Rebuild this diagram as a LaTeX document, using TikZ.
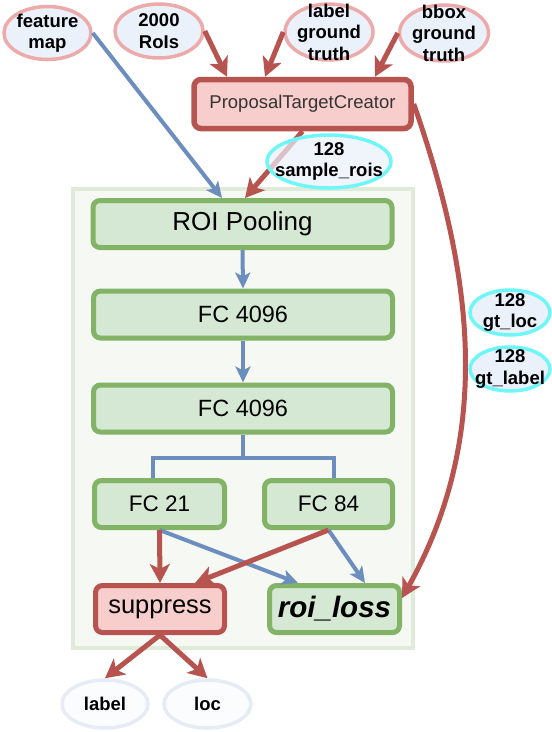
\documentclass[tikz,border=0pt]{standalone}
\usepackage{fontspec}
\setmainfont{Liberation Sans}
\usetikzlibrary{shapes.geometric,arrows.meta,calc}
\definecolor{redline}{HTML}{B85450}
\definecolor{redfill}{HTML}{F8CECC}
\definecolor{greenline}{HTML}{82B366}
\definecolor{greenfill}{HTML}{D5E8D4}
\definecolor{blueline}{HTML}{6C8EBF}
\definecolor{ovalfill}{HTML}{EAF1FB}
\definecolor{pinkrim}{HTML}{EDAAAA}
\definecolor{cyanrim}{HTML}{6EF6F8}
\definecolor{palerim}{HTML}{E6ECF5}
\definecolor{palefill}{HTML}{FAFCFE}
\definecolor{groupline}{HTML}{E0EAD8}
\definecolor{groupfill}{HTML}{F6F8F3}

\begin{document}
\begin{tikzpicture}[x=1pt, y=-1pt,
                    every node/.style={inner sep=0pt},
                    layer/.style={draw=greenline, fill=greenfill, line width=5pt,
                      rounded corners=7pt, minimum height=47pt, minimum width=#1},
                    redbox/.style={layer=#1, draw=redline, fill=redfill},
                    oval/.style={ellipse, draw=pinkrim, fill=ovalfill, line width=3.5pt},
                    ovaltext/.style={font=\fontsize{18.5}{21.5}\selectfont\bfseries, align=center},
                    redarrow/.style={draw=redline, line width=5pt,
                      -{Stealth[length=19pt, width=20pt, inset=5pt]}},
                    bluearrow/.style={draw=blueline, line width=4pt,
                      -{Stealth[length=16pt, width=15pt, inset=4pt]}}]
\useasboundingbox (0,0) rectangle (552,732);
\fill[groupfill, draw=groupline, line width=4pt] (73,189) rectangle (413,648);

\node[oval, minimum width=87pt, minimum height=53pt,
      label={[ovaltext]center:feature\\map}] (fmap) at (47.5,33) {};
\node[oval, minimum width=88pt, minimum height=54pt,
      label={[ovaltext]center:2000\\RoIs}] (rois) at (159,31) {};
\node[oval, minimum width=88pt, minimum height=56pt,
      label={[ovaltext]center:label\\ground\\truth}] (lgt) at (329,32) {};
\node[oval, minimum width=89pt, minimum height=56pt,
      label={[ovaltext]center:bbox\\ground\\truth}] (bgt) at (444,33) {};

\node[redbox=217pt, minimum height=49pt, line width=5.5pt, text=black!80,
      font=\fontsize{18.5}{22}\selectfont] (ptc) at (302.5,104) {ProposalTargetCreator};

\node[layer=299pt, font=\fontsize{26}{30}\selectfont] (roi) at (242.5,224) {ROI Pooling};
\node[layer=299pt, font=\fontsize{23.5}{28}\selectfont] (fca) at (243,314.5) {FC 4096};
\node[layer=299pt, font=\fontsize{23.5}{28}\selectfont] (fcb) at (243,408.5) {FC 4096};
\node[layer=130pt, font=\fontsize{22.5}{27}\selectfont] (fc21) at (159.5,504) {FC 21};
\node[layer=128pt, font=\fontsize{22.5}{27}\selectfont] (fc84) at (328.5,504) {FC 84};
\node[redbox=129pt, font=\fontsize{25.5}{30}\selectfont] (supp) at (160,609) {suppress};
\node[layer=130pt, font=\fontsize{29.5}{34}\selectfont\bfseries\itshape] (loss) at (334.5,609) {roi\_loss};

\node[oval, draw=cyanrim, minimum width=80pt, minimum height=45pt,
      label={[ovaltext]center:128\\gt\_loc}] (gtloc) at (510,312.5) {};
\node[oval, draw=cyanrim, minimum width=80pt, minimum height=44pt,
      label={[ovaltext]center:128\\gt\_label}] (gtlabel) at (510,369) {};

\node[oval, draw=palerim, fill=palefill, minimum width=86pt, minimum height=48pt,
      label={[ovaltext]center:label}] (lab) at (105,704) {};
\node[oval, draw=palerim, fill=palefill, minimum width=87pt, minimum height=48pt,
      label={[ovaltext]center:loc}] (loc) at (207.5,704) {};

\draw[bluearrow] (fmap.east) -- ([xshift=-20.5pt]roi.north);
\draw[redarrow] (rois.east) -- ([xshift=-75.5pt]ptc.north);
\draw[redarrow] (lgt.west) -- ([xshift=-37.5pt]ptc.north);
\draw[redarrow] (bgt.west) -- ([xshift=72.5pt]ptc.north);
\draw[redarrow] (ptc.south) -- ([xshift=2.5pt]roi.north);
\draw[redarrow] (ptc.east) .. controls (474,276) and (493,436) .. ([yshift=11pt]loss.east);

\node[oval, draw=cyanrim, fill opacity=0.7, minimum width=124pt, minimum height=53pt,
      label={[ovaltext]center:128\\sample\_rois}] (srois) at (329,161.5) {};

\draw[bluearrow] (roi.south) -- (fca.north);
\draw[bluearrow] (fca.south) -- (fcb.north);
\coordinate (split) at ($(fcb.south)+(0,23)$);
\draw[draw=blueline, line width=4pt] (fcb.south) -- (split) -| ([xshift=-6.5pt]fc21.north);
\draw[draw=blueline, line width=4pt] (split) -| ([xshift=5.5pt]fc84.north);

\draw[bluearrow] (fc21.south) -- ([xshift=-36.5pt]loss.north);
\draw[bluearrow] (fc84.south) -- ([xshift=30.5pt]loss.north);
\draw[redarrow] (fc21.south) -- (supp.north);
\draw[redarrow] (fc84.south) -- ([xshift=35pt]supp.north);
\draw[redarrow] (supp.south) -- (lab.north);
\draw[redarrow] (supp.south) -- (loc.north);
\end{tikzpicture}
\end{document}
